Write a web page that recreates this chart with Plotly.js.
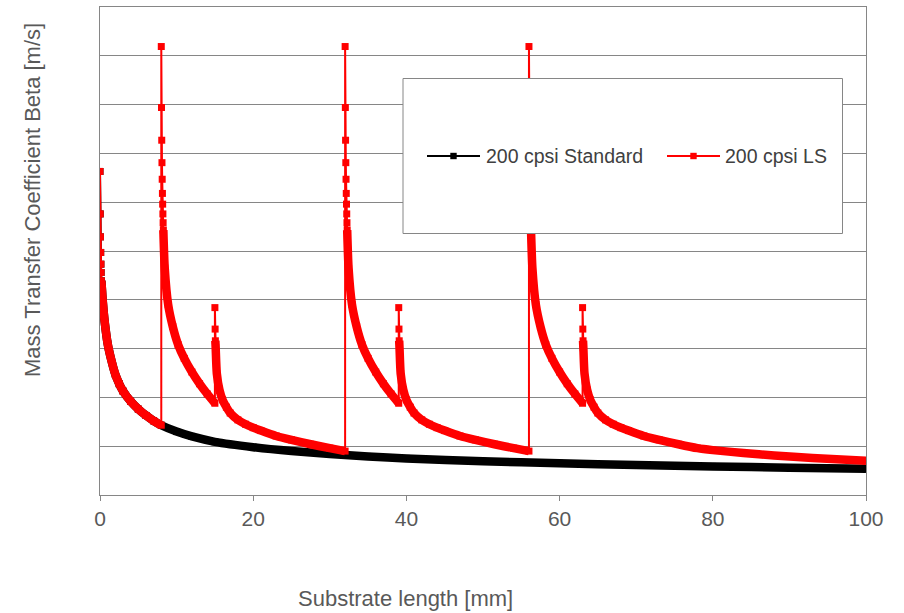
<!DOCTYPE html>
<html>
<head>
<meta charset="utf-8">
<script src="https://cdn.plot.ly/plotly-3.0.1.min.js"></script>
<style>html,body{margin:0;padding:0;background:#fff}#chart{width:904px;height:613px}</style>
</head>
<body>
<div id="chart"></div>
<script>
// ---- data (y in units of one gridline step; the source has no y tick labels) ----
const seriesNames = ['200 cpsi Standard', '200 cpsi LS'];
const xTicks = [0, 20, 40, 60, 80, 100];

// 200 cpsi Standard (black)
const stdX = [0, 0.03, 0.06, 0.09, 0.12, 0.15, 0.18, 0.3, 0.45, 0.65, 1.0, 1.5, 2.0, 2.5, 3.0, 4.0, 5.0, 6.0, 7.0, 8.0,
              10, 12, 15, 20, 25, 30, 35, 40, 50, 60, 70, 80, 90, 100];
const stdY = [6.63, 5.76, 5.29, 4.97, 4.73, 4.56, 4.39, 4.10, 3.80, 3.50, 3.10, 2.75, 2.47, 2.28, 2.13, 1.92, 1.76, 1.63, 1.52, 1.43,
              1.30, 1.20, 1.09, 0.98, 0.90, 0.84, 0.79, 0.75, 0.69, 0.65, 0.615, 0.585, 0.56, 0.54];

// 200 cpsi LS (red) - restarts at 8, 15, 32, 39, 56, 63 mm (repeated x = jump)
const lsX = [
  0, 0.03, 0.06, 0.09, 0.12, 0.15, 0.18, 0.3, 0.45, 0.65, 1.0, 1.5, 2.0, 2.5, 3.0, 4.0, 5.0, 6.0, 7.0, 8.0,
  8.0, 8.03, 8.06, 8.09, 8.12, 8.15, 8.18, 8.21, 8.24, 8.27, 8.45, 8.9, 9.5, 10.2, 11, 12, 13, 14, 15,
  15, 15.03, 15.06, 15.1, 15.25, 15.6, 16, 16.5, 17, 18, 19, 20, 21, 23, 25, 27.5, 30, 32,
  32, 32.03, 32.06, 32.09, 32.12, 32.15, 32.18, 32.21, 32.24, 32.27, 32.45, 32.9, 33.5, 34.2, 35, 36, 37, 38, 39,
  39, 39.03, 39.06, 39.1, 39.25, 39.6, 40, 40.5, 41, 42, 43, 44, 45, 47, 49, 51.5, 54, 56,
  56, 56.03, 56.06, 56.09, 56.12, 56.15, 56.18, 56.21, 56.24, 56.27, 56.45, 56.9, 57.5, 58.2, 59, 60, 61, 62, 63,
  63, 63.03, 63.06, 63.1, 63.25, 63.6, 64, 64.5, 65, 66, 67, 68, 69, 71, 73, 75.5, 78, 80, 84, 88, 93, 100
];
const lsY = [
  6.63, 5.76, 5.29, 4.97, 4.73, 4.56, 4.39, 4.10, 3.80, 3.50, 3.10, 2.75, 2.47, 2.28, 2.13, 1.92, 1.76, 1.63, 1.52, 1.43,
  9.19, 7.94, 7.27, 6.81, 6.47, 6.18, 5.96, 5.76, 5.58, 5.43, 4.65, 3.90, 3.45, 3.08, 2.80, 2.52, 2.28, 2.07, 1.88,
  3.84, 3.40, 3.16, 3.02, 2.49, 2.15, 1.95, 1.80, 1.68, 1.54, 1.45, 1.38, 1.32, 1.21, 1.13, 1.04, 0.96, 0.90,
  9.19, 7.94, 7.27, 6.81, 6.47, 6.18, 5.96, 5.76, 5.58, 5.43, 4.65, 3.90, 3.45, 3.08, 2.80, 2.52, 2.28, 2.07, 1.88,
  3.84, 3.40, 3.16, 3.02, 2.49, 2.15, 1.95, 1.80, 1.68, 1.54, 1.45, 1.38, 1.32, 1.21, 1.13, 1.04, 0.96, 0.90,
  9.19, 7.94, 7.27, 6.81, 6.47, 6.18, 5.96, 5.76, 5.58, 5.43, 4.65, 3.90, 3.45, 3.08, 2.80, 2.52, 2.28, 2.07, 1.88,
  3.84, 3.40, 3.16, 3.02, 2.49, 2.15, 1.95, 1.80, 1.68, 1.54, 1.45, 1.38, 1.32, 1.21, 1.13, 1.04, 0.96, 0.92, 0.86, 0.81, 0.76, 0.70
];
// number of sparse (individually visible) samples at the start of each segment
const lsTipCounts = [7, 10, 3, 10, 3, 10, 3];
const stdTipCounts = [7];

// ---- helpers ----
function splitSegments(xs, ys) {
  const segs = []; let cur = {x: [], y: []};
  for (let i = 0; i < xs.length; i++) {
    if (i > 0 && xs[i] === xs[i - 1]) { segs.push(cur); cur = {x: [], y: []}; }
    cur.x.push(xs[i]); cur.y.push(ys[i]);
  }
  segs.push(cur);
  return segs;
}
function bandOf(xs, ys, tipCounts) {
  const bx = [], by = [];
  splitSegments(xs, ys).forEach((s, k) => {
    const start = Math.max(0, (tipCounts[k] || 1) - 1);
    for (let i = start; i < s.x.length; i++) { bx.push(s.x[i]); by.push(s.y[i]); }
    bx.push(null); by.push(null);
  });
  return {x: bx, y: by};
}

const stdBand = bandOf(stdX, stdY, stdTipCounts);
const lsBand = bandOf(lsX, lsY, lsTipCounts);
const BLACK = '#000000', RED = '#ff0000';
const COLORS = [BLACK, RED];

const traces = [
  {x: stdBand.x, y: stdBand.y, mode: 'lines', line: {color: BLACK, width: 8.5, shape: 'spline', smoothing: 0.6},
   connectgaps: false, showlegend: false, hoverinfo: 'skip'},
  {x: stdX, y: stdY, name: seriesNames[0], mode: 'lines+markers', line: {color: BLACK, width: 2},
   marker: {symbol: 'square', size: 7, color: BLACK}, showlegend: false},
  {x: lsBand.x, y: lsBand.y, mode: 'lines', line: {color: RED, width: 8.5, shape: 'spline', smoothing: 0.6},
   connectgaps: false, showlegend: false, hoverinfo: 'skip'},
  {x: lsX, y: lsY, name: seriesNames[1], mode: 'lines+markers', line: {color: RED, width: 2},
   marker: {symbol: 'square', size: 7, color: RED}, showlegend: false}
];

const GRID = '#868686';
const FONT = '"Liberation Sans", Arial, sans-serif';

// plot area in pixels: x 100..866, y 7..495
const PL = 100, PR = 866, PT = 7, PB = 495;
const px = v => (v - PL) / (PR - PL);
const py = v => (PB - v) / (PB - PT);

// legend box (drawn as an opaque framed rectangle above the data)
const shapes = [{
  type: 'rect', xref: 'paper', yref: 'paper',
  x0: px(403), x1: px(842.5), y0: py(233.5), y1: py(78.5),
  line: {color: GRID, width: 1}, fillcolor: '#ffffff', layer: 'above'
}];
const annotations = [];
const legendItems = [{x0: 427, x1: 480, tx: 484}, {x0: 667, x1: 720, tx: 723}];
legendItems.forEach((it, i) => {
  shapes.push({type: 'line', xref: 'paper', yref: 'paper', x0: px(it.x0), x1: px(it.x1), y0: py(156), y1: py(156),
               line: {color: COLORS[i], width: 2.2}, layer: 'above'});
  shapes.push({type: 'rect', xref: 'paper', yref: 'paper', xsizemode: 'pixel', ysizemode: 'pixel',
               xanchor: px((it.x0 + it.x1) / 2), yanchor: py(156), x0: -3.2, x1: 3.2, y0: -3.2, y1: 3.2,
               line: {width: 0}, fillcolor: COLORS[i], layer: 'above'});
  annotations.push({text: seriesNames[i], xref: 'paper', yref: 'paper', x: px(it.tx), y: py(156),
                    xanchor: 'left', yanchor: 'middle', showarrow: false,
                    font: {family: FONT, size: 19.5, color: '#404040'}});
});
annotations.push(
  {text: 'Substrate length [mm]', xref: 'paper', yref: 'paper', x: px(405), y: py(598),
   xanchor: 'center', yanchor: 'middle', showarrow: false, font: {family: FONT, size: 22, color: '#595959'}},
  {text: 'Mass Transfer Coefficient Beta [m/s]', xref: 'paper', yref: 'paper', x: px(33), y: py(200),
   xanchor: 'center', yanchor: 'middle', textangle: -90, showarrow: false,
   font: {family: FONT, size: 22, color: '#595959'}}
);

const layout = {
  width: 904, height: 613,
  margin: {l: PL, r: 904 - PR, t: PT, b: 613 - PB, pad: 0},
  paper_bgcolor: '#ffffff', plot_bgcolor: '#ffffff',
  font: {family: FONT, size: 18, color: '#595959'},
  showlegend: false,
  xaxis: {
    range: [0, 100], tickvals: xTicks, ticktext: xTicks.map(String),
    ticks: 'outside', ticklen: 5, tickcolor: GRID, tickwidth: 1,
    showgrid: false, zeroline: false, showline: true, linecolor: GRID, linewidth: 1, mirror: true,
    tickfont: {family: FONT, size: 21, color: '#595959'}, automargin: false
  },
  yaxis: {
    range: [0, 10], dtick: 1, showticklabels: false, ticks: '',
    showgrid: true, gridcolor: GRID, gridwidth: 1, zeroline: false,
    showline: true, linecolor: GRID, linewidth: 1, mirror: true, automargin: false
  },
  shapes: shapes,
  annotations: annotations
};

Plotly.newPlot('chart', traces, layout, {displayModeBar: false, staticPlot: true});
</script>
</body>
</html>
